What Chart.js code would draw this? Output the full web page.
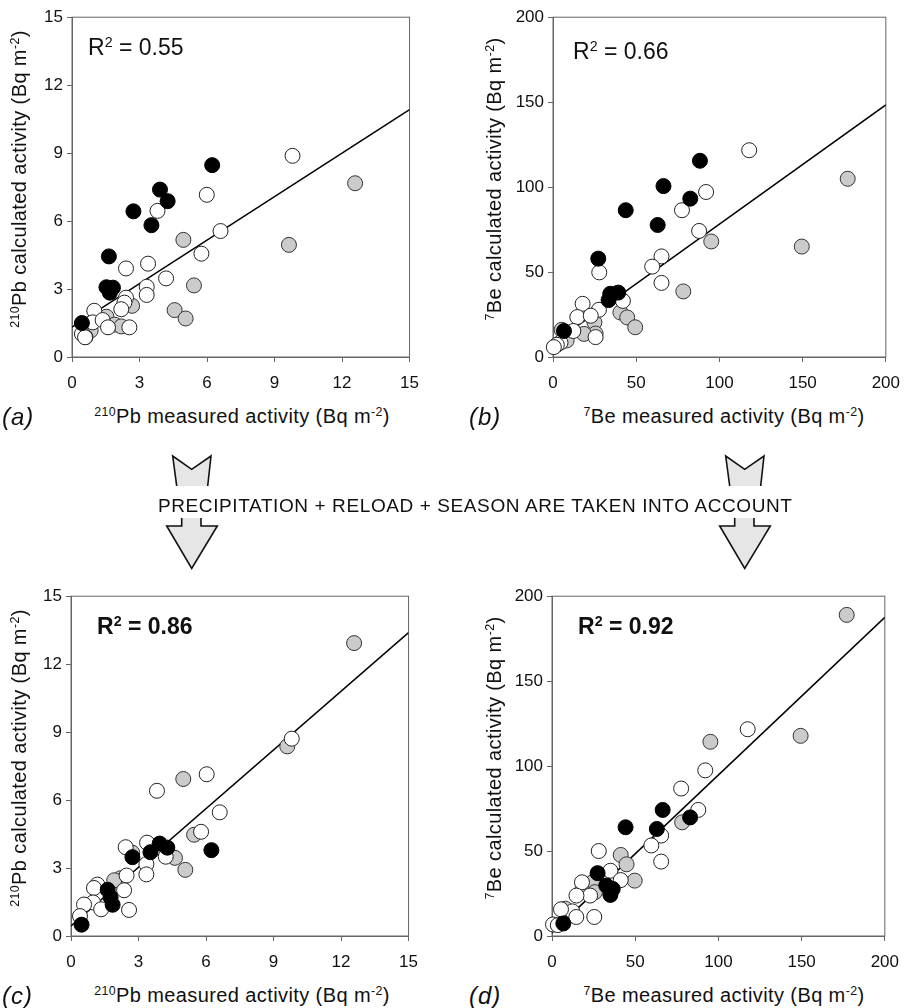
<!DOCTYPE html>
<html>
<head>
<meta charset="utf-8">
<script src="https://cdn.jsdelivr.net/npm/chart.js@4.4.1/dist/chart.umd.min.js"></script>
<style>
  body { margin: 0; background: #fff; }
  #fig { position: relative; width: 920px; height: 1008px; overflow: hidden; font-family: "Liberation Sans", Arial, sans-serif; color: #111; }
  canvas { position: absolute; }
  .t { position: absolute; white-space: nowrap; font-size: 20px; line-height: 20px; letter-spacing: 0.4px; }
  .yt { transform: translate(-50%, -50%) rotate(-90deg); }
  .xt { transform: translate(-50%, -50%); }
  .tag { position: absolute; font-size: 24px; line-height: 24px; font-style: italic; letter-spacing: 1px; transform: translateY(-50%); }
  .r2 { position: absolute; font-size: 23px; line-height: 23px; white-space: nowrap; }
  sup { font-size: 0.62em; line-height: 0; vertical-align: 0.55em; }
  #mid { position: absolute; left: 158px; top: 505px; transform: translateY(-50%); font-size: 19px; line-height: 19px; letter-spacing: 0.6px; white-space: nowrap; }
  svg { position: absolute; left: 0; top: 0; }
</style>
</head>
<body>
<div id="fig">
  <svg width="920" height="1008" id="arrows"></svg>

  <canvas id="pa"></canvas>
  <canvas id="pb"></canvas>
  <canvas id="pc"></canvas>
  <canvas id="pd"></canvas>

  <div class="r2" style="left:88px;top:36px">R<sup>2</sup> = 0.55</div>
  <div class="r2" style="left:573px;top:40px">R<sup>2</sup> = 0.66</div>
  <div class="r2" style="left:97px;top:615px;font-weight:bold">R<sup>2</sup> = 0.86</div>
  <div class="r2" style="left:578px;top:615px;font-weight:bold">R<sup>2</sup> = 0.92</div>

  <div class="t yt" style="left:19px;top:179px"><sup>210</sup>Pb calculated activity (Bq m<sup>-2</sup>)</div>
  <div class="t yt" style="left:494px;top:179px"><sup>7</sup>Be calculated activity (Bq m<sup>-2</sup>)</div>
  <div class="t yt" style="left:19px;top:758px"><sup>210</sup>Pb calculated activity (Bq m<sup>-2</sup>)</div>
  <div class="t yt" style="left:494px;top:758px"><sup>7</sup>Be calculated activity (Bq m<sup>-2</sup>)</div>

  <div class="t xt" style="left:242px;top:416px"><sup>210</sup>Pb measured activity (Bq m<sup>-2</sup>)</div>
  <div class="t xt" style="left:724px;top:416px"><sup>7</sup>Be measured activity (Bq m<sup>-2</sup>)</div>
  <div class="t xt" style="left:242px;top:995px"><sup>210</sup>Pb measured activity (Bq m<sup>-2</sup>)</div>
  <div class="t xt" style="left:724px;top:995px"><sup>7</sup>Be measured activity (Bq m<sup>-2</sup>)</div>

  <div class="tag" style="left:2px;top:417px">(a)</div>
  <div class="tag" style="left:469px;top:417px">(b)</div>
  <div class="tag" style="left:2px;top:996px">(c)</div>
  <div class="tag" style="left:469px;top:996px">(d)</div>

  <div id="mid">PRECIPITATION + RELOAD + SEASON ARE TAKEN INTO ACCOUNT</div>
</div>

<script>
// (a) 210Pb, precipitation only
const aBlack = [[0.44, 1.5], [1.64, 4.44], [1.53, 3.08], [1.82, 3.06], [1.68, 2.84], [2.73, 6.43], [3.53, 5.82], [3.91, 7.39], [4.25, 6.88], [6.23, 8.47]];
const aWhite = [[9.8, 8.88], [5.99, 7.16], [3.8, 6.45], [6.6, 5.56], [5.75, 4.56], [2.4, 3.91], [3.38, 4.12], [4.18, 3.47], [3.32, 3.1], [3.32, 2.74], [2.4, 2.62], [2.33, 2.4], [2.19, 2.11], [0.99, 2.04], [0.92, 1.53], [1.36, 1.63], [1.6, 1.31], [2.55, 1.31], [0.44, 1.02], [0.58, 0.87]];
const aGray = [[12.58, 7.67], [9.64, 4.95], [4.95, 5.17], [5.42, 3.16], [2.67, 2.26], [4.56, 2.07], [5.05, 1.7], [1.53, 1.78], [1.89, 1.43], [2.19, 1.35], [0.83, 1.17], [0.6, 0.88]];
const aFit = [[0, 1.32], [15, 10.92]];

// (b) 7Be, precipitation only
const bBlack = [[6.6, 15.3], [27.2, 57.9], [33.4, 33.5], [34.4, 37.2], [39.2, 37.9], [43.7, 86.4], [62.9, 77.7], [66.4, 100.6], [82.5, 93.2], [88.3, 115.5]];
const bWhite = [[117.9, 121.7], [92, 97.1], [77.5, 86.4], [87.8, 74.2], [65.2, 59.2], [59.6, 53.2], [65.2, 43.6], [27.8, 49.8], [42, 33], [27.6, 27.8], [17.8, 31.3], [14.6, 23.5], [22.7, 24.3], [12.2, 15.3], [25.6, 11.7], [4.5, 8.5], [2.3, 7.2], [0.5, 5.8]];
const bGray = [[177.1, 104.9], [149.5, 65], [95.1, 68], [78.3, 38.6], [40.5, 26.2], [44.6, 23.3], [49.4, 17.5], [24.9, 20.4], [25.6, 13.8], [18.6, 13.6], [8.2, 9.7], [5.2, 16]];
const bFit = [[0, 8], [200, 148.4]];

// (c) 210Pb, precipitation + reload + season
const cBlack = [[0.47, 0.5], [1.63, 2.04], [1.76, 1.71], [1.85, 1.38], [2.73, 3.48], [3.53, 3.7], [3.94, 4.08], [4.28, 3.9], [6.24, 3.79]];
const cWhite = [[9.81, 8.71], [6.03, 7.14], [3.82, 6.41], [6.61, 5.46], [5.78, 4.6], [3.38, 4.12], [2.43, 3.92], [4.21, 3.5], [3.35, 3.17], [3.35, 2.72], [2.47, 2.67], [2.36, 2.02], [1.17, 2.27], [1.02, 2.12], [2.58, 1.15], [0.98, 1.48], [0.58, 1.39], [1.34, 1.18], [0.4, 0.88]];
const cGray = [[12.58, 12.93], [9.61, 8.37], [4.99, 6.93], [5.47, 4.47], [2.72, 3.68], [4.62, 3.45], [5.08, 2.92], [2.2, 2.55], [1.92, 2.46]];
const cFit = [[0, 0.44], [15, 13.39]];

// (d) 7Be, precipitation + reload + season
const dBlack = [[6.8, 7.4], [27.4, 37], [32.6, 29.7], [36.5, 27.7], [35.1, 24.2], [44.2, 64], [63, 63], [66.5, 74.2], [83, 69.8]];
const dWhite = [[117.6, 121.7], [92.1, 97.5], [77.6, 86.8], [87.9, 74.2], [65.6, 59.1], [59.7, 53.3], [65.6, 43.8], [28.1, 50], [35.1, 38.4], [41.3, 32.9], [18, 31.6], [22.9, 23.8], [14.7, 23.8], [12.2, 14.5], [14.6, 11.2], [25.4, 11.2], [5.4, 15.7], [0.6, 6.8], [3.5, 6.4]];
const dGray = [[177.1, 189], [149.4, 117.8], [95.2, 114.3], [78.2, 66.9], [41.3, 47.7], [44.8, 42.2], [49.7, 32.6], [24.8, 32], [18, 26.7], [25.8, 25.8], [8, 16.1]];
const dFit = [[0, 2], [200, 187.6]];

const FONT = '"Liberation Sans", Arial, sans-serif';
const AXIS = '#666';

// box around the plot area, drawn under the points
const frame = {
  id: 'frame',
  beforeDatasetsDraw(chart) {
    const a = chart.chartArea;
    const ctx = chart.ctx;
    ctx.save();
    ctx.strokeStyle = AXIS;
    ctx.lineWidth = 1;
    ctx.strokeRect(a.left, a.top, a.right - a.left, a.bottom - a.top);
    ctx.restore();
  }
};

function pts(arr) {
  return arr.map((p) => ({ x: p[0], y: p[1] }));
}

function makePanel(id, left, top, max, step, black, white, gray, fit) {
  const cv = document.getElementById(id);
  const W = 343 + 50 + 15;
  const H = 344 + 10 + 40;
  cv.width = W;
  cv.height = H;
  cv.style.width = W + 'px';
  cv.style.height = H + 'px';
  cv.style.left = (left - 50) + 'px';
  cv.style.top = (top - 10) + 'px';

  const axis = (isX) => ({
    type: 'linear',
    min: 0,
    max: max,
    ticks: { stepSize: step, color: '#111', font: { size: 17, family: FONT }, padding: isX ? 11 : 4 },
    grid: { drawOnChartArea: false, drawTicks: true, tickLength: 5, color: AXIS },
    border: { color: AXIS },
    afterFit(s) {
      if (isX) s.height = 40; else s.width = 50;
    }
  });

  new Chart(cv, {
    type: 'scatter',
    data: {
      datasets: [
        { data: pts(black), backgroundColor: '#000', borderColor: '#000', order: 0, clip: false },
        { data: pts(white), backgroundColor: '#fff', borderColor: '#222', order: 1, clip: false },
        { data: pts(gray), backgroundColor: '#cbcbcb', borderColor: '#333', order: 2, clip: false },
        { data: pts(fit), showLine: true, pointRadius: 0, borderColor: '#000', borderWidth: 1.5, order: 3 }
      ]
    },
    options: {
      responsive: false,
      animation: false,
      devicePixelRatio: 1,
      layout: { padding: { top: 10, right: 15, left: 0, bottom: 0 }, autoPadding: false },
      elements: { point: { radius: 7.5, hoverRadius: 7.5, borderWidth: 1 } },
      plugins: { legend: { display: false }, tooltip: { enabled: false } },
      events: [],
      scales: { x: axis(true), y: axis(false) }
    },
    plugins: [frame]
  });
}

makePanel('pa', 72, 13, 15, 3, aBlack, aWhite, aGray, aFit);
makePanel('pb', 553, 13, 200, 50, bBlack, bWhite, bGray, bFit);
makePanel('pc', 71, 592, 15, 3, cBlack, cWhite, cGray, cFit);
makePanel('pd', 552, 592, 200, 50, dBlack, dWhite, dGray, dFit);

// block arrows between the rows, split by the caption
function drawArrow(dx) {
  const svg = document.getElementById('arrows');
  const ns = 'http://www.w3.org/2000/svg';
  const add = (tag, attrs) => {
    const el = document.createElementNS(ns, tag);
    for (const k in attrs) el.setAttribute(k, attrs[k]);
    svg.appendChild(el);
  };
  const P = (list) => list.map((p) => (p[0] + dx) + ',' + p[1]).join(' ');
  const topPart = [[176.7, 486], [172.7, 456], [191.7, 469.3], [211, 456], [207.7, 486]];
  const lowPart = [[181.7, 518], [181.7, 526], [166.7, 526], [191.7, 568.5], [217.3, 526], [201, 526], [201, 518]];
  add('polygon', { points: P(topPart), fill: '#e6e6e6', stroke: 'none' });
  add('polyline', { points: P(topPart), fill: 'none', stroke: '#111', 'stroke-width': 1.6, 'stroke-linejoin': 'miter' });
  add('polygon', { points: P(lowPart), fill: '#e6e6e6', stroke: 'none' });
  add('polyline', { points: P(lowPart), fill: 'none', stroke: '#111', 'stroke-width': 1.6, 'stroke-linejoin': 'miter' });
}
drawArrow(0);
drawArrow(553);
</script>
</body>
</html>
